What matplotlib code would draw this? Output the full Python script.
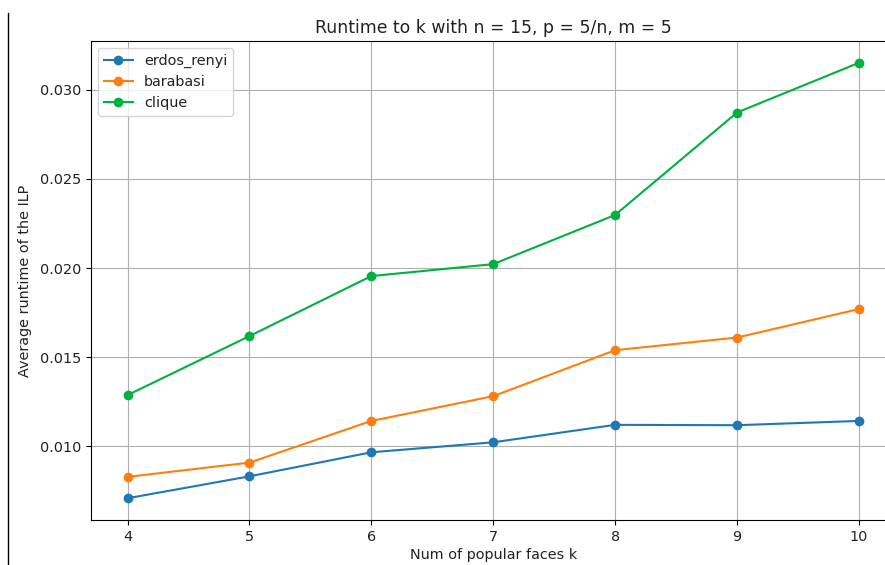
import matplotlib
matplotlib.use("Agg")
import matplotlib.pyplot as plt
from matplotlib.lines import Line2D

k_values = [4, 5, 6, 7, 8, 9, 10]
erdos_renyi = [0.00708, 0.00831, 0.00966, 0.01022, 0.01120, 0.01118, 0.01142]
barabasi = [0.00828, 0.00908, 0.01142, 0.01281, 0.01539, 0.01610, 0.01770]
clique = [0.01287, 0.01618, 0.01955, 0.02022, 0.02298, 0.02873, 0.03152]

plt.rcParams["font.size"] = 10.35
plt.rcParams["text.color"] = "#222222"
plt.rcParams["xtick.labelcolor"] = "#222222"
plt.rcParams["ytick.labelcolor"] = "#222222"
plt.rcParams["axes.labelcolor"] = "#222222"

fig = plt.figure(figsize=(8.85, 5.65), dpi=100)
# axes run past the right edge, the screenshot was cropped there
ax = fig.add_axes([0.1028, 0.0796, 0.9091, 0.8478])

ax.plot(k_values, erdos_renyi, marker="o", color="#1f77b4", label="erdos_renyi")
ax.plot(k_values, barabasi, marker="o", color="#ff7f0e", label="barabasi")
ax.plot(k_values, clique, marker="o", color="#00b140", label="clique")

ax.set_title("Runtime to k with n = 15, p = 5/n, m = 5")
ax.set_xlabel("Num of popular faces k", labelpad=3)
ax.set_ylabel("Average runtime of the ILP", labelpad=6)
ax.grid(True)
ax.spines["right"].set_visible(False)
ax.legend(loc="upper left")

# thin frame line at the left edge of the screenshot
fig.add_artist(Line2D([8.3 / 885, 8.3 / 885], [0, 1 - 13 / 565], color="black", lw=1))

fig.savefig("out.png", dpi=100)
